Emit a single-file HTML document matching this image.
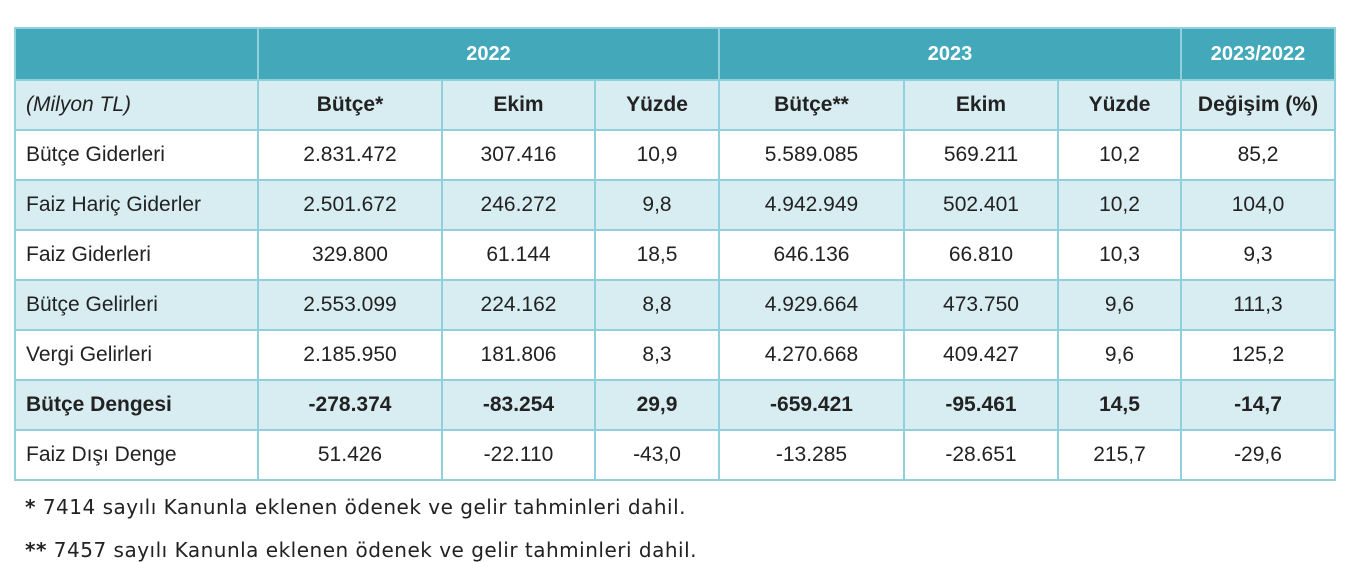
<!DOCTYPE html>
<html><head><meta charset="utf-8"><style>
body{margin:0;width:1345px;height:562px;background:#fff;font-family:"Liberation Sans",sans-serif;color:#222;overflow:hidden;position:relative}
table{position:absolute;left:14px;top:27px;border-collapse:collapse;table-layout:fixed;width:1320px}
td{border:2px solid #8fd0dc;text-align:center;font-size:21px;height:48px;padding:0;white-space:nowrap}
td:first-child{text-align:left;padding-left:10px}
tr.h td{background:#43a9ba;color:#fff;font-weight:bold;font-size:20px;height:50px;border-color:#8fd0dc}
tr.alt td{background:#d8edf2}
tr.sub td{font-weight:bold}
tr.sub td:first-child{font-weight:normal;font-style:italic}
tr.b td{font-weight:bold}
.fn{position:absolute;left:25px;font-size:20px;letter-spacing:0.5px;color:#222;font-family:"DejaVu Sans",sans-serif;white-space:nowrap}
</style></head><body>
<table>
<colgroup><col style="width:243px"><col style="width:184px"><col style="width:153px"><col style="width:124px"><col style="width:185px"><col style="width:154px"><col style="width:123px"><col style="width:154px"></colgroup>
<tr class="h"><td></td><td colspan="3">2022</td><td colspan="3">2023</td><td>2023/2022</td></tr>
<tr class="alt sub"><td>(Milyon TL)</td><td>Bütçe*</td><td>Ekim</td><td>Yüzde</td><td>Bütçe**</td><td>Ekim</td><td>Yüzde</td><td>Değişim (%)</td></tr>
<tr><td>Bütçe Giderleri</td><td>2.831.472</td><td>307.416</td><td>10,9</td><td>5.589.085</td><td>569.211</td><td>10,2</td><td>85,2</td></tr>
<tr class="alt"><td>Faiz Hariç Giderler</td><td>2.501.672</td><td>246.272</td><td>9,8</td><td>4.942.949</td><td>502.401</td><td>10,2</td><td>104,0</td></tr>
<tr><td>Faiz Giderleri</td><td>329.800</td><td>61.144</td><td>18,5</td><td>646.136</td><td>66.810</td><td>10,3</td><td>9,3</td></tr>
<tr class="alt"><td>Bütçe Gelirleri</td><td>2.553.099</td><td>224.162</td><td>8,8</td><td>4.929.664</td><td>473.750</td><td>9,6</td><td>111,3</td></tr>
<tr><td>Vergi Gelirleri</td><td>2.185.950</td><td>181.806</td><td>8,3</td><td>4.270.668</td><td>409.427</td><td>9,6</td><td>125,2</td></tr>
<tr class="alt b"><td>Bütçe Dengesi</td><td>-278.374</td><td>-83.254</td><td>29,9</td><td>-659.421</td><td>-95.461</td><td>14,5</td><td>-14,7</td></tr>
<tr><td>Faiz Dışı Denge</td><td>51.426</td><td>-22.110</td><td>-43,0</td><td>-13.285</td><td>-28.651</td><td>215,7</td><td>-29,6</td></tr>
</table>
<div class="fn" style="top:495px"><b>*</b> 7414 sayılı Kanunla eklenen ödenek ve gelir tahminleri dahil.</div>
<div class="fn" style="top:538px"><b>**</b> 7457 sayılı Kanunla eklenen ödenek ve gelir tahminleri dahil.</div>
</body></html>
